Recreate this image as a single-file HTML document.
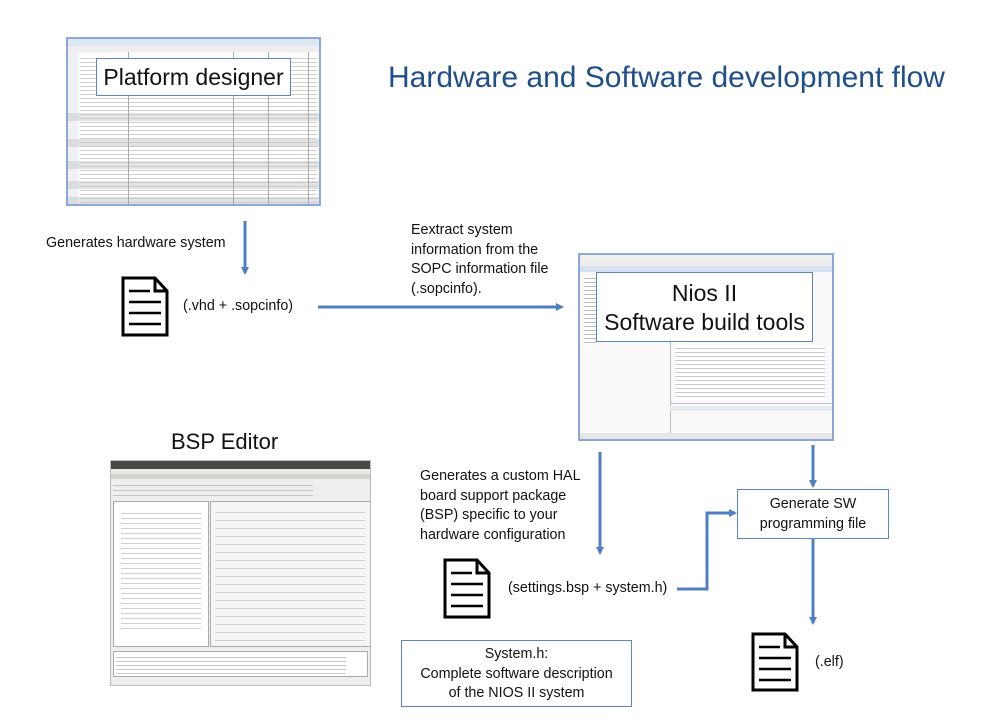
<!DOCTYPE html>
<html><head><meta charset="utf-8"><style>
body{margin:0;width:999px;height:728px;background:#fff;position:relative;overflow:hidden;font-family:"Liberation Sans",sans-serif;color:#111}
.a{position:absolute}
.t{position:absolute;font-size:14.3px;line-height:19.5px;white-space:nowrap}
.box{position:absolute;background:#fff;border:1.5px solid #5b86c4;box-sizing:border-box;text-align:center}
.shot{position:absolute;border:2px solid #8aa8d8;box-sizing:border-box;background:#fafafa;overflow:hidden}
</style></head><body>

<!-- Platform designer screenshot -->
<div class="shot" style="left:66px;top:37px;width:255px;height:169px;">
  <div class="a" style="left:0;top:0;right:0;height:7px;background:#dde6f3"></div>
  <div class="a" style="left:0;top:7px;right:0;height:6px;background:#eee"></div>
  <div class="a" style="left:0;top:13px;width:10px;bottom:0;background:#eef0f3"></div>
  <div class="a" style="left:12px;top:16px;right:2px;bottom:0;background:repeating-linear-gradient(#fff 0 3px,#cfcfcf 3px 4px)"></div>
  <div class="a" style="left:0;top:100px;right:0;height:8px;background:rgba(200,200,200,.5)"></div>
  <div class="a" style="left:0;top:122px;right:0;height:8px;background:rgba(200,200,200,.5)"></div>
  <div class="a" style="left:0;top:142px;right:0;height:8px;background:rgba(200,200,200,.5)"></div>
  <div class="a" style="left:0;top:158px;right:0;height:8px;background:rgba(200,200,200,.5)"></div>
  <div class="a" style="left:0;top:74px;right:0;height:8px;background:rgba(200,200,200,.5)"></div>
  <div class="a" style="left:60px;top:13px;width:1px;bottom:0;background:#aaa"></div>
  <div class="a" style="left:165px;top:13px;width:1px;bottom:0;background:#aaa"></div>
  <div class="a" style="left:200px;top:13px;width:1px;bottom:0;background:#aaa"></div>
  <div class="a" style="left:240px;top:13px;width:1px;bottom:0;background:#aaa"></div>
</div>
<div class="box" style="left:96px;top:58px;width:195px;height:38px;font-size:23px;line-height:36px;">Platform designer</div>

<div class="a" style="left:388px;top:60px;font-size:30px;color:#1f4e8c;white-space:nowrap;line-height:36px">Hardware and Software development flow</div>

<svg class="a" style="left:0;top:0" width="999" height="728">
  <defs><marker id="m" markerWidth="8" markerHeight="8" refX="6" refY="4" orient="auto" markerUnits="userSpaceOnUse"><path d="M0,0 L8,4 L0,8 z" fill="#4f7fc0"/></marker></defs>
  <g stroke="#4f7fc0" stroke-width="3" fill="none">
    <line x1="245" y1="221" x2="245" y2="273" marker-end="url(#m)"/>
    <line x1="318" y1="307" x2="562" y2="307" marker-end="url(#m)"/>
    <line x1="600" y1="452" x2="600" y2="553" marker-end="url(#m)"/>
    <line x1="813" y1="445" x2="813" y2="486" marker-end="url(#m)"/>
    <polyline points="677,589 707,589 707,513 735,513" marker-end="url(#m)"/>
    <line x1="813" y1="538" x2="813" y2="623" marker-end="url(#m)"/>
  </g>
  <g stroke="#000" stroke-width="3" fill="#fff">
    <path d="M123,278 L155,278 L167,291 L167,335 L123,335 Z"/>
    <path d="M155,278 L155,291 L167,291" fill="none"/>
    <path d="M445,560 L477,560 L489,573 L489,617 L445,617 Z"/>
    <path d="M477,560 L477,573 L489,573" fill="none"/>
    <path d="M753,634 L785,634 L797,647 L797,690 L753,690 Z"/>
    <path d="M785,634 L785,647 L797,647" fill="none"/>
  </g>
  <g stroke="#000" stroke-width="2.5">
    <line x1="129" y1="291" x2="150" y2="291"/><line x1="129" y1="302" x2="161" y2="302"/><line x1="129" y1="313" x2="161" y2="313"/><line x1="129" y1="324" x2="161" y2="324"/>
    <line x1="451" y1="573" x2="472" y2="573"/><line x1="451" y1="584" x2="483" y2="584"/><line x1="451" y1="595" x2="483" y2="595"/><line x1="451" y1="606" x2="483" y2="606"/>
    <line x1="759" y1="647" x2="780" y2="647"/><line x1="759" y1="658" x2="791" y2="658"/><line x1="759" y1="669" x2="791" y2="669"/><line x1="759" y1="680" x2="791" y2="680"/>
  </g>
</svg>

<div class="t" style="left:46px;top:234px">Generates hardware system</div>
<div class="t" style="left:183px;top:297px">(.vhd + .sopcinfo)</div>
<div class="t" style="left:411px;top:221px">Eextract system<br>information from the<br>SOPC information file<br>(.sopcinfo).</div>

<!-- Nios screenshot -->
<div class="shot" style="left:578px;top:253px;width:256px;height:188px;">
  <div class="a" style="left:0;top:0;right:0;height:6px;background:#f0f0f0"></div>
  <div class="a" style="left:0;top:6px;right:0;height:5px;background:#eee"></div>
  <div class="a" style="left:0;top:11px;right:0;height:6px;background:#d6e2f2"></div>
  <div class="a" style="left:4px;top:20px;width:12px;height:70px;background:repeating-linear-gradient(#fff 0 3px,#bbb 3px 4px)"></div>
  <div class="a" style="left:90px;top:20px;width:1px;bottom:6px;background:#bbb"></div>
  <div class="a" style="left:90px;top:148px;right:0;height:1px;background:#bbb"></div>
  <div class="a" style="left:90px;top:151px;right:0;height:5px;background:#e6e8f2"></div>
  <div class="a" style="left:0;bottom:0;right:0;height:6px;background:#e6e6e6"></div>
  <div class="a" style="left:95px;top:90px;width:150px;height:55px;background:repeating-linear-gradient(#fff 0 3px,#c8c8d8 3px 4px)"></div>
</div>
<div class="box" style="left:596px;top:272px;width:217px;height:70px;font-size:23px;line-height:29px;padding-top:6px;">Nios II<br>Software build tools</div>

<!-- BSP editor -->
<div class="a" style="left:171px;top:429px;font-size:22px;line-height:26px;">BSP Editor</div>
<div class="a" style="left:110px;top:460px;width:261px;height:226px;background:#efeeec;border:1px solid #bbb;box-sizing:border-box;overflow:hidden">
  <div class="a" style="left:0;top:0;right:0;height:8px;background:#4a4845"></div>
  <div class="a" style="left:0;top:8px;right:0;height:5px;background:#ebeae8"></div>
  <div class="a" style="left:0;top:13px;right:0;height:5px;background:#d4d3d0"></div>
  <div class="a" style="left:2px;top:20px;width:200px;height:18px;background:repeating-linear-gradient(#efeeec 0 4px,#c4c4c4 4px 5px)"></div>
  <div class="a" style="left:2px;top:40px;width:94px;height:144px;background:#fff;border:1px solid #aaa"></div>
  <div class="a" style="left:99px;top:40px;width:160px;height:144px;background:#f5f5f4;border:1px solid #aaa"></div>
  <div class="a" style="left:104px;top:44px;width:150px;height:136px;background:repeating-linear-gradient(#f5f5f4 0 7px,#cfcfcf 7px 8px)"></div>
  <div class="a" style="left:2px;top:190px;right:2px;height:24px;background:#fff;border:1px solid #aaa"></div>
  <div class="a" style="left:5px;top:193px;width:230px;height:20px;background:repeating-linear-gradient(#fff 0 3px,#c8c8c8 3px 4px)"></div>
  <div class="a" style="left:10px;top:48px;width:80px;height:120px;background:repeating-linear-gradient(#fff 0 4px,#cfcfcf 4px 5px)"></div>
</div>

<div class="t" style="left:420px;top:467px">Generates a custom HAL<br>board support package<br>(BSP) specific to your<br>hardware configuration</div>
<div class="t" style="left:508px;top:579px">(settings.bsp + system.h)</div>

<div class="box" style="left:737px;top:489px;width:152px;height:50px;font-size:14.3px;line-height:19.5px;padding-top:5px;">Generate SW<br>programming file</div>

<div class="t" style="left:815px;top:653px">(.elf)</div>

<div class="box" style="left:401px;top:640px;width:231px;height:67px;font-size:14.3px;line-height:19.5px;padding-top:4px;">System.h:<br>Complete software description<br>of the NIOS II system</div>

</body></html>
